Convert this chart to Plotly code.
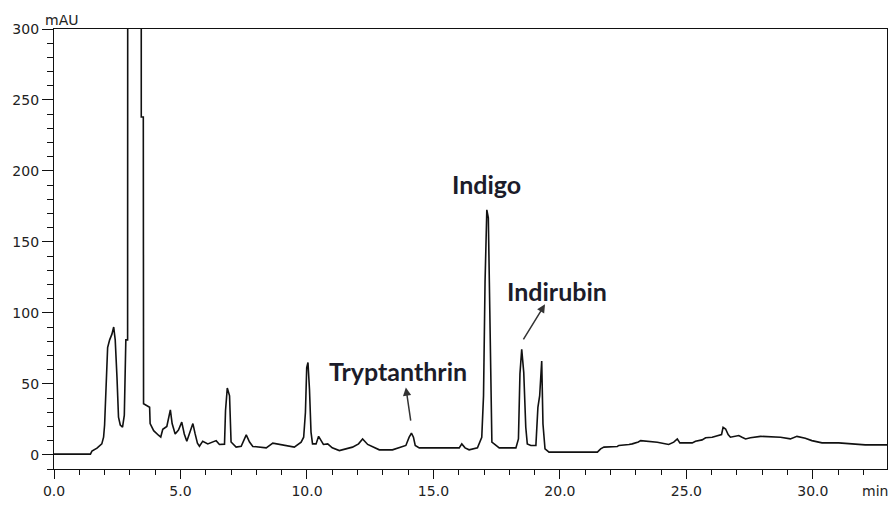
import plotly.graph_objects as go

# Retention time (min) and detector response (mAU)
time_min = [0.0, 1.44, 1.50, 1.70, 1.89, 1.96, 2.00, 2.05, 2.12, 2.20, 2.29, 2.36, 2.42, 2.49,
            2.55, 2.62, 2.71, 2.78, 2.84, 2.91, 2.93, 3.20, 3.44, 3.45, 3.53, 3.54, 3.65, 3.78,
            3.80, 3.94, 4.13, 4.22, 4.30, 4.46, 4.60, 4.67, 4.79, 4.92, 5.05, 5.15, 5.25, 5.36,
            5.49, 5.58, 5.67, 5.75, 5.88, 6.08, 6.41, 6.54, 6.74, 6.78, 6.85, 6.94, 7.00, 7.20,
            7.40, 7.60, 7.73, 7.86, 8.39, 8.65, 8.91, 9.24, 9.50, 9.77, 9.87, 9.94, 9.99, 10.04,
            10.10, 10.16, 10.22, 10.36, 10.46, 10.56, 10.65, 10.82, 11.00, 11.28, 11.54, 11.80,
            12.04, 12.20, 12.40, 12.59, 12.86, 13.38, 13.91, 14.04, 14.13, 14.21, 14.28, 14.44,
            16.02, 16.12, 16.25, 16.41, 16.74, 16.91, 16.98, 17.04, 17.11, 17.17, 17.23, 17.31,
            17.40, 17.60, 18.26, 18.36, 18.42, 18.49, 18.57, 18.65, 18.71, 18.85, 19.05, 19.13,
            19.20, 19.28, 19.33, 19.41, 19.57, 20.75, 21.48, 21.61, 21.74, 22.27, 22.33, 22.73,
            22.86, 23.10, 23.19, 23.85, 24.30, 24.50, 24.64, 24.74, 25.23, 25.36, 25.62, 25.76,
            26.02, 26.39, 26.45, 26.55, 26.65, 26.74, 27.07, 27.20, 27.34, 27.53, 27.93, 28.72,
            29.11, 29.37, 29.70, 29.96, 30.36, 31.02, 32.07, 32.93]
absorbance_mau = [0.5, 0.5, 2.6, 4.7, 7.7, 12.4, 21, 42, 75.6, 81, 85, 90, 81, 54.5,
                  26.5, 21, 19.5, 28, 81, 81, 1300, 1500, 1300, 238, 238, 36, 35, 33.5,
                  22, 17, 13.8, 12.5, 18, 20, 31.6, 22, 14.7, 17.5, 23, 14.7, 9.6, 14.7,
                  22, 14.7, 8.2, 6, 9.6, 7.7, 10, 7.3, 7.5, 31, 47, 41.6, 9, 5.4,
                  6, 14, 9, 5.9, 4.9, 8.2, 7.3, 6.6, 5.4, 8.9, 12.4, 30, 61.5, 65,
                  46, 16, 7.7, 7.7, 13, 10, 7.3, 7.7, 4.9, 3, 4.2, 5.4,
                  7.7, 11.2, 7.3, 5.9, 3.5, 3.5, 6.6, 12.4, 15.2, 12.4, 6.6, 4.9,
                  4.9, 7.7, 4.9, 3.5, 4.9, 12.4, 41.7, 122, 172.6, 167, 88, 8.9,
                  7.7, 4.9, 4.9, 11.2, 57, 74.4, 58, 19.4, 7.7, 6.6, 6.6, 33.5,
                  41.7, 66, 21.7, 4.2, 1.9, 1.9, 1.9, 4.2, 5.4, 5.9, 6.6, 7.3,
                  7.7, 9.1, 10, 8.9, 7.3, 8.9, 11.2, 8.4, 8.4, 9.6, 10.5, 12,
                  12.4, 14.3, 19.4, 18.2, 14.3, 12.4, 13.6, 12.4, 11.2, 12, 13, 12.4,
                  11.2, 13, 11.7, 10, 8.4, 8.4, 7, 7]

peak_names = ["Indigo", "Tryptanthrin", "Indirubin"]
label_time = [17.11, 13.6, 19.87]
label_mau = [191, 59.2, 115.4]
arrow_tail_time = [None, 14.11, 18.52]
arrow_tail_mau = [None, 23, 80.3]
arrow_tip_time = [None, 13.91, 19.41]
arrow_tip_mau = [None, 47.5, 106]

x_range = [0, 32.93]
y_range = [-10, 300]

INK = "#111111"
TICKFONT = dict(family="DejaVu Sans", size=14, color="#222222")

fig = go.Figure()
fig.add_trace(go.Scatter(x=time_min, y=absorbance_mau, mode="lines",
                         line=dict(color=INK, width=1.6), hoverinfo="skip",
                         showlegend=False))

annotations = []
for name, lx, ly, tx, ty, hx, hy in zip(peak_names, label_time, label_mau,
                                         arrow_tail_time, arrow_tail_mau,
                                         arrow_tip_time, arrow_tip_mau):
    annotations.append(dict(x=lx, y=ly, xref="x", yref="y", text=name, showarrow=False,
                            xanchor="center", yanchor="middle",
                            font=dict(family="Lato", size=25, color="#1c1c2a", weight="bold")))
    if tx is not None:
        annotations.append(dict(x=hx, y=hy, ax=tx, ay=ty, xref="x", yref="y",
                                axref="x", ayref="y", text="", showarrow=True,
                                arrowhead=2, arrowsize=1.1, arrowwidth=1.5,
                                arrowcolor="#333333", standoff=0, startstandoff=0))

annotations.append(dict(x=-0.0135, y=1.02, xref="paper", yref="paper", text="mAU",
                        showarrow=False, xanchor="left", yanchor="middle", font=TICKFONT))
annotations.append(dict(x=0.986, y=-0.05, xref="paper", yref="paper", text="min",
                        showarrow=False, xanchor="center", yanchor="middle", font=TICKFONT))

fig.update_layout(
    width=894, height=505,
    margin=dict(l=54, r=6, t=29, b=34),
    paper_bgcolor="white", plot_bgcolor="white",
    annotations=annotations,
    xaxis=dict(range=x_range, tick0=0, dtick=5, tickformat=".1f", ticks="outside",
               ticklen=9, tickwidth=1.3, tickcolor=INK, showline=True, linecolor=INK,
               linewidth=1.3, mirror=True, showgrid=False, zeroline=False,
               tickfont=TICKFONT,
               minor=dict(dtick=1, ticks="outside", ticklen=5, tickwidth=1.2,
                          tickcolor=INK, showgrid=False)),
    yaxis=dict(range=y_range, tick0=0, dtick=50, ticks="outside", ticklen=11,
               tickwidth=1.3, tickcolor=INK, showline=True, linecolor=INK,
               linewidth=1.3, mirror=True, showgrid=False, zeroline=False,
               tickfont=TICKFONT,
               minor=dict(tick0=0, dtick=10, ticks="outside", ticklen=6, tickwidth=1.2,
                          tickcolor=INK, showgrid=False)),
)

fig.write_html("out.html", config={"displayModeBar": False},
               post_script="document.body.style.margin='0';document.body.style.padding='0';"
                           "document.body.style.overflow='hidden';")
